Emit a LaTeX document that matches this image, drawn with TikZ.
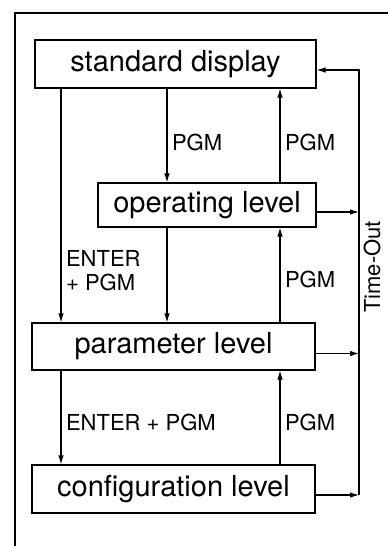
\documentclass[tikz,border=0pt]{standalone}
\usepackage{fontspec}
\setmainfont{TeX Gyre Heros}
\usepackage{tikz}
\usetikzlibrary{arrows.meta,positioning,calc}

\begin{document}
\begin{tikzpicture}[
  x=1pt, y=-1pt,
  box/.style={draw, line width=1.1pt, inner sep=0pt, minimum height=47pt, font=\fontsize{29}{30}\selectfont},
  lbl/.style={font=\fontsize{22}{24}\selectfont, inner sep=4.5pt, align=left},
  arr/.style={-{Latex[length=9pt,width=5.5pt]}, line width=1.1pt}
]
\useasboundingbox (0,0) rectangle (388,546);
% open frame
\draw[line width=1.1pt] (388,13) -- (15,13) -- (15,546);
\node[box, minimum width=281pt, minimum height=48pt] (std) at (175.5,64) {standard display};
\node[box, minimum width=218pt, minimum height=44pt] (op) at (207,205) {operating level};
\node[box, minimum width=283pt] (par) at (173.5,346.5) {parameter level};
\node[box, minimum width=283pt, minimum height=48pt] (cfg) at (173.5,489) {configuration level};
\coordinate (lx) at (61,0);
\coordinate (mx) at (167,0);
\coordinate (rx) at (280,0);
\coordinate (bus) at (359,0);
% down
\draw[arr] (std.south -| lx) -- node[lbl, right, pos=0.78]{ENTER\\+ PGM} (par.north -| lx);
\draw[arr] (std.south -| mx) -- node[lbl, right, pos=0.57]{PGM} (op.north -| mx);
\draw[arr] (op.south -| mx) -- (par.north -| mx);
\draw[arr] (par.south -| lx) -- node[lbl, right, pos=0.55]{ENTER + PGM} (cfg.north -| lx);
% up
\draw[arr] (op.north -| rx) -- node[lbl, right, pos=0.43]{PGM} (std.south -| rx);
\draw[arr] (par.north -| rx) -- node[lbl, right, pos=0.45]{PGM} (op.south -| rx);
\draw[arr] (cfg.north -| rx) -- node[lbl, right, pos=0.45]{PGM} (par.south -| rx);
% time-out
\draw[arr] ([yshift=-7pt]op.east) -- ([yshift=-7pt]op.east -| bus);
\draw[arr] ([yshift=-7pt]par.east) -- ([yshift=-7pt]par.east -| bus);
\draw[arr] ([yshift=-6pt]cfg.east) -- ([yshift=-6pt]cfg.east -| bus);
\draw[arr] ([yshift=-6pt]cfg.east -| bus) -- ([yshift=-6pt]std.east -| bus) -- ([yshift=-6pt]std.east);
\node[lbl, rotate=90] (tout) at (372,267) {Time-Out};
\end{tikzpicture}
\end{document}
